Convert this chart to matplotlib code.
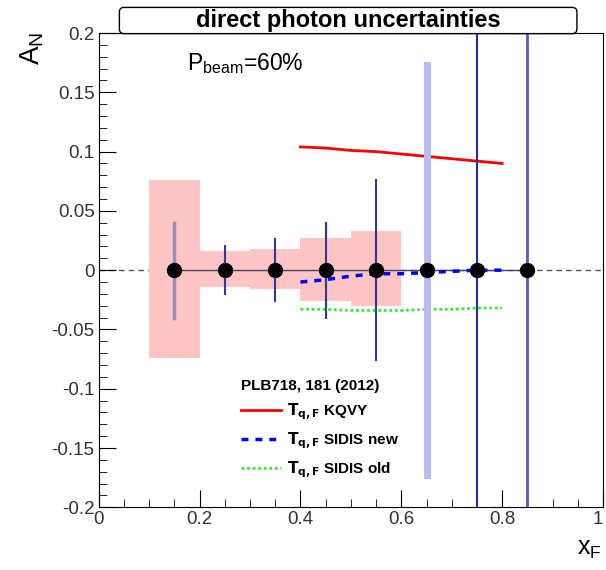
import numpy as np
import matplotlib.pyplot as plt
from matplotlib.patches import FancyBboxPatch
from matplotlib.lines import Line2D
from matplotlib.ticker import MultipleLocator

plt.rcParams['font.family'] = ['Liberation Sans', 'DejaVu Sans']

# data points (all at zero) with statistical errors
x_pts = [0.15, 0.25, 0.35, 0.45, 0.55, 0.65, 0.75, 0.85]
y_pts = [0, 0, 0, 0, 0, 0, 0, 0]
stat_err = [0.040, 0.020, 0.026, 0.040, 0.076, 0.173, 0.5, 0.5]

# systematic boxes
sys_x = [0.15, 0.25, 0.35, 0.45, 0.55]
sys_up = [0.076, 0.016, 0.018, 0.027, 0.033]
sys_lo = [-0.074, -0.014, -0.016, -0.026, -0.030]

# theory curves
kqvy_x = [0.40, 0.45, 0.50, 0.55, 0.60, 0.65, 0.70, 0.75, 0.80]
kqvy_y = [0.104, 0.103, 0.101, 0.100, 0.098, 0.096, 0.094, 0.092, 0.090]
new_x = [0.40, 0.45, 0.50, 0.55, 0.60, 0.65, 0.70, 0.75, 0.80]
new_y = [-0.010, -0.008, -0.005, -0.003, -0.003, -0.002, -0.001, 0.000, 0.000]
old_x = [0.40, 0.45, 0.50, 0.55, 0.60, 0.65, 0.70, 0.75, 0.80]
old_y = [-0.033, -0.033, -0.034, -0.034, -0.034, -0.033, -0.033, -0.032, -0.032]

fig = plt.figure(figsize=(6.06, 5.70), dpi=100)
ax = fig.add_axes([0.163, 0.110, 0.832, 0.832])

ax.axhline(0, color='#555555', ls=(0, (4, 3)), lw=1, zorder=1)

ax.bar(sys_x, np.array(sys_up) - np.array(sys_lo), bottom=sys_lo, width=0.1,
       color='#ffc4c4', edgecolor='none', zorder=2)

ax.plot(kqvy_x, kqvy_y, color='red', lw=2, zorder=3)
ax.plot(new_x, new_y, color='blue', lw=2.5, ls=(0, (2, 2)), zorder=5)
ax.plot(old_x, old_y, color='#33ee33', lw=2, ls=(0, (1, 1)), zorder=3)

bar_cols = ['#9a8ccc'] + ['#3333aa'] * 4 + ['#b8bcf0', '#2a2aa0', '#5a5ac0']
bar_lw = [2.5] + [1.5] * 4 + [5, 1.5, 2]
for x, y, e, c, w in zip(x_pts, y_pts, stat_err, bar_cols, bar_lw):
    ax.plot([x, x], [y - e, y + e], color=c, lw=w, zorder=4)

ax.plot(x_pts, y_pts, color='#444466', lw=1, zorder=4)
ax.plot(x_pts, y_pts, 'o', color='black', ms=10, zorder=6)

ax.set_xlim(0, 1)
ax.set_ylim(-0.2, 0.2)
ax.xaxis.set_major_locator(MultipleLocator(0.2))
ax.xaxis.set_minor_locator(MultipleLocator(0.05))
ax.yaxis.set_major_locator(MultipleLocator(0.05))
ax.yaxis.set_minor_locator(MultipleLocator(0.01))
ax.tick_params(which='both', direction='in', top=False, right=False,
               labelsize=13.5, labelcolor='#333333', pad=3)
ax.tick_params(which='major', length=12)
ax.tick_params(which='minor', length=6)
ax.set_xticks([0, 0.2, 0.4, 0.6, 0.8, 1])
ax.set_xticklabels(['0', '0.2', '0.4', '0.6', '0.8', '1'])
ax.get_xticklabels()[-1].set_horizontalalignment('right')
ax.set_yticks([-0.2, -0.15, -0.1, -0.05, 0, 0.05, 0.1, 0.15, 0.2])
ax.set_yticklabels(['-0.2', '-0.15', '-0.1', '-0.05', '0', '0.05', '0.1', '0.15', '0.2'])

fig.text(0.053, 0.915, r'$\mathregular{A_N}$', rotation=90, fontsize=20,
         ha='center', va='center')
fig.text(0.973, 0.037, r'$\mathregular{x_F}$', fontsize=18, ha='center', va='center')

ax.text(0.175, 0.935, r'$\mathregular{P_{beam}}$=60%', transform=ax.transAxes,
        fontsize=16.5, va='center')

handles = [Line2D([], [], color='red', lw=2),
           Line2D([], [], color='blue', lw=2.5, ls=(0, (2, 2))),
           Line2D([], [], color='#33ee33', lw=2, ls=(0, (1, 1)))]
labels = [r'$\mathbf{T_{q,F}}$ KQVY', r'$\mathbf{T_{q,F}}$ SIDIS new',
          r'$\mathbf{T_{q,F}}$ SIDIS old']
leg = ax.legend(handles, labels, loc='upper left', bbox_to_anchor=(0.255, 0.30),
                frameon=False, title='PLB718, 181 (2012)', handlelength=2.6,
                handletextpad=0.4, prop={'weight': 'bold', 'size': 11},
                labelspacing=0.55, alignment='left')
leg.get_title().set_fontweight('bold')
leg.get_title().set_fontsize(11)

box = FancyBboxPatch((0.197, 0.941), 0.755, 0.046, boxstyle='round,pad=0,rounding_size=0.008',
                     transform=fig.transFigure, fc='white', ec='black', lw=1, zorder=10)
fig.patches.append(box)
fig.text(0.574, 0.964, 'direct photon uncertainties', fontsize=17, fontweight='bold',
         ha='center', va='center', zorder=11)

fig.savefig('out.png', dpi=100)
